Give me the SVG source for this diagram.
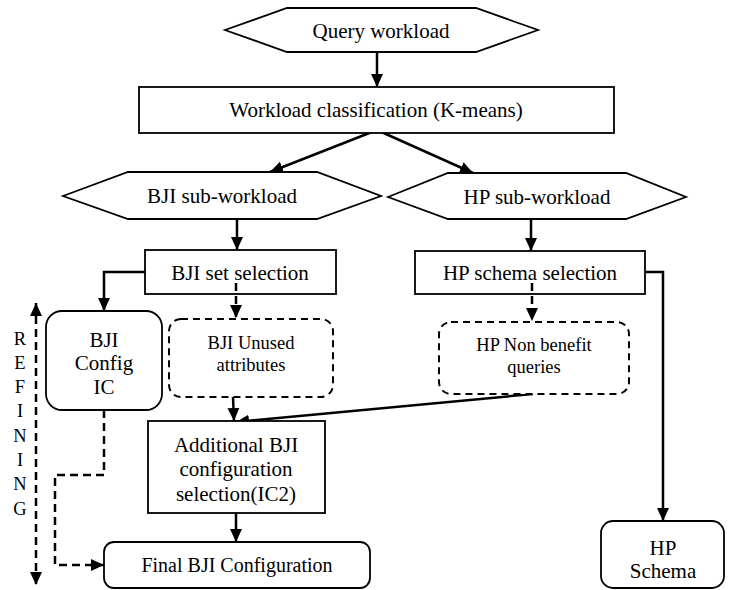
<svg xmlns="http://www.w3.org/2000/svg" width="732" height="590" viewBox="0 0 732 590">
<style>
.n{fill:#fff;stroke:#000;stroke-width:1.8}
.d{fill:#fff;stroke:#000;stroke-width:2;stroke-dasharray:7,5}
text{font-family:"Liberation Serif","Times New Roman",serif;fill:#000;text-anchor:middle}
.t21{font-size:21px}
.t20{font-size:20px}
.t18{font-size:18.5px}
.c{fill:none;stroke:#000;stroke-width:2.5}
.cd{fill:none;stroke:#000;stroke-width:2.5;stroke-dasharray:8,5}
</style>
<defs>
<marker id="ah" markerUnits="userSpaceOnUse" markerWidth="14" markerHeight="14" viewBox="0 0 14 14" refX="13" refY="7" orient="auto">
<path d="M0,1 L13,7 L0,13 Z" fill="#000"/>
</marker>
<marker id="ahs" markerUnits="userSpaceOnUse" markerWidth="14" markerHeight="14" viewBox="0 0 14 14" refX="1" refY="7" orient="auto">
<path d="M14,1 L1,7 L14,13 Z" fill="#000"/>
</marker>
</defs>
<g id="connectors">
<line class="c" x1="377" y1="52" x2="377" y2="87" marker-end="url(#ah)"/>
<line class="c" x1="377" y1="130" x2="270" y2="172" marker-end="url(#ah)"/>
<line class="c" x1="377" y1="130" x2="473" y2="173" marker-end="url(#ah)"/>
<line class="c" x1="237" y1="219" x2="237" y2="250" marker-end="url(#ah)"/>
<line class="c" x1="531" y1="219" x2="531" y2="251" marker-end="url(#ah)"/>
<polyline class="c" points="145,272 104,272 104,311" marker-end="url(#ah)"/>
<polyline class="c" points="645,272 663,272 663,521" marker-end="url(#ah)"/>
<line class="c" x1="233" y1="397" x2="234" y2="421" marker-end="url(#ah)"/>
<line class="c" x1="533" y1="394" x2="236" y2="422" marker-end="url(#ah)"/>
<line class="c" x1="236" y1="513" x2="236" y2="542" marker-end="url(#ah)"/>
<polyline class="cd" points="104,410 104,475 55,475 55,565 104,565" marker-end="url(#ah)"/>
<line class="cd" x1="36" y1="303" x2="36" y2="585" marker-start="url(#ahs)" marker-end="url(#ah)"/>
</g>
<g id="query-workload">
<polygon class="n" points="225,30 287,8 476,8 538,30 476,52 287,52"/>
<text class="t21" x="381" y="38">Query workload</text>
</g>
<g id="workload-classification">
<rect class="n" x="139" y="87" width="475" height="46"/>
<text class="t21" x="376" y="117">Workload classification (K-means)</text>
</g>
<g id="bji-sub-workload">
<polygon class="n" points="63,196 128,172 317,172 381,196 317,219 128,219"/>
<text class="t21" x="222" y="203">BJI sub-workload</text>
</g>
<g id="hp-sub-workload">
<polygon class="n" points="388,197 448,173 626,173 686,197 626,219 448,219"/>
<text class="t21" x="537" y="204">HP sub-workload</text>
</g>
<g id="bji-set-selection">
<rect class="n" x="145" y="250" width="191" height="44"/>
<text class="t21" x="240" y="280">BJI set selection</text>
</g>
<g id="hp-schema-selection">
<rect class="n" x="415" y="251" width="230" height="43"/>
<text class="t21" x="530" y="280">HP schema selection</text>
</g>
<g id="dashed-arrows">
<line class="cd" x1="236" y1="283" x2="236" y2="318" marker-end="url(#ah)"/>
<line class="cd" x1="532" y1="283" x2="532" y2="321" marker-end="url(#ah)"/>
</g>
<g id="bji-config-ic">
<rect class="n" x="46" y="311" width="116" height="99" rx="16"/>
<text class="t21" x="104" y="347">BJI</text>
<text class="t21" x="104" y="370">Config</text>
<text class="t21" x="104" y="394">IC</text>
</g>
<g id="bji-unused">
<rect class="d" x="169" y="319" width="164" height="78" rx="12"/>
<text class="t18" x="251" y="349">BJI Unused</text>
<text class="t18" x="251" y="371">attributes</text>
</g>
<g id="hp-non-benefit">
<rect class="d" x="439" y="322" width="190" height="72" rx="12"/>
<text class="t18" x="534" y="351">HP Non benefit</text>
<text class="t18" x="534" y="373">queries</text>
</g>
<g id="additional-bji">
<rect class="n" x="148" y="421" width="177" height="92"/>
<text class="t21" x="236" y="452">Additional BJI</text>
<text class="t21" x="236" y="476">configuration</text>
<text class="t21" x="236" y="501">selection(IC2)</text>
</g>
<g id="final-bji">
<rect class="n" x="104" y="542" width="266" height="46" rx="10"/>
<text class="t20" x="237" y="572">Final BJI Configuration</text>
</g>
<g id="hp-schema">
<rect class="n" x="601" y="521" width="123" height="67" rx="12"/>
<text class="t21" x="663" y="555">HP</text>
<text class="t21" x="663" y="578">Schema</text>
</g>
<g id="refining">
<text class="t18" x="20" y="345">R</text>
<text class="t18" x="20" y="369">E</text>
<text class="t18" x="20" y="393">F</text>
<text class="t18" x="20" y="417">I</text>
<text class="t18" x="20" y="442">N</text>
<text class="t18" x="20" y="466">I</text>
<text class="t18" x="20" y="490">N</text>
<text class="t18" x="20" y="515">G</text>
</g>
</svg>
